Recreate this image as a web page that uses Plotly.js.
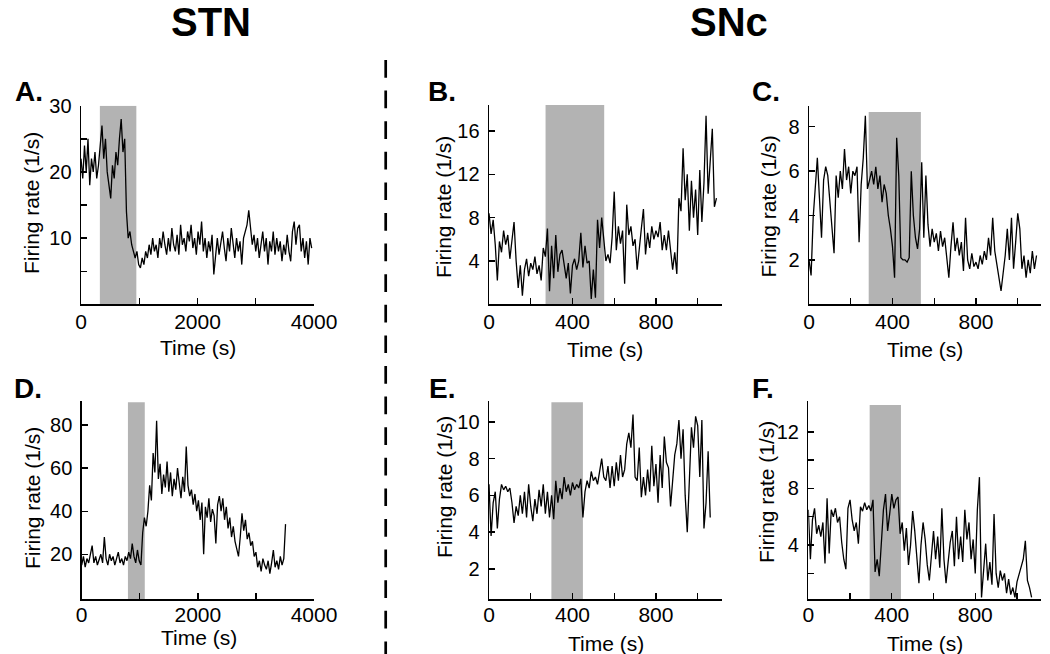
<!DOCTYPE html>
<html>
<head>
<meta charset="utf-8">
<script src="https://cdn.plot.ly/plotly-3.0.1.min.js"></script>
<style>
  html, body { margin: 0; padding: 0; background: #ffffff; }
  #chart { width: 1050px; height: 654px; }
</style>
</head>
<body>
<div id="chart"></div>
<script>
// ---------- data ----------
const STN_TIME = [
  0,30,60,90,120,150,180,210,240,270,
  300,330,360,390,420,450,480,510,540,570,
  600,630,660,690,720,750,780,810,840,870,
  900,930,960,990,1020,1050,1080,1110,1140,1170,
  1200,1230,1260,1290,1320,1350,1380,1410,1440,1470,
  1500,1530,1560,1590,1620,1650,1680,1710,1740,1770,
  1800,1830,1860,1890,1920,1950,1980,2010,2040,2070,
  2100,2130,2160,2190,2220,2250,2280,2310,2340,2370,
  2400,2430,2460,2490,2520,2550,2580,2610,2640,2670,
  2700,2730,2760,2790,2820,2850,2880,2910,2940,2970,
  3000,3030,3060,3090,3120,3150,3180,3210,3240,3270,
  3300,3330,3360,3390,3420,3450,3480,3510,3540,3570,
  3600,3630,3660,3690,3720,3750,3780,3810,3840,3870,
  3900,3930,3960
];
const SNC_TIME = [
  0,10,20,30,40,50,60,70,80,90,
  100,110,120,130,140,150,160,170,180,190,
  200,210,220,230,240,250,260,270,280,290,
  300,310,320,330,340,350,360,370,380,390,
  400,410,420,430,440,450,460,470,480,490,
  500,510,520,530,540,550,560,570,580,590,
  600,610,620,630,640,650,660,670,680,690,
  700,710,720,730,740,750,760,770,780,790,
  800,810,820,830,840,850,860,870,880,890,
  900,910,920,930,940,950,960,970,980,990,
  1000,1010,1020,1030,1040,1050,1060,1070,1080,1090,
  1100
];

// Panel A (STN)
const RATE_A = [
  22,19,24,20,25,18,22,20,23,19,
  21,24,27,22,25,20,18,16,21,19,
  23,21,25,28,23,25,14,10,11,9,
  8,7,8,6,5.5,7,6,8,7,9,
  7.5,10,8,9,7,10,8.5,11,9,7.5,
  10,8,11.5,9,8,10.5,7.5,12,9,10,
  8,11,9.5,12,8.5,10,7.5,11,9,12.5,
  8,10,7,9.5,8,10.5,4.5,8,10,7.5,
  9,11,8.5,6.5,10,8,11.5,9,7,10,
  8,9.5,6,10,11,12,14.2,11,9,10.5,
  8,10,7,9,11,8,10,6,9.5,8,
  11,7.5,10,8,9.5,6.5,9,7.5,10.5,8,
  6.5,11,12.5,9,11.5,12,8,10,7,9.5,
  6,10,8.5
];
// Panel B (SNc)
const RATE_B = [
  8.4,6.5,7.8,5.5,2.2,5.8,4.8,6.8,5.5,6.4,
  4.2,6.0,7.6,4.0,1.5,3.6,0.8,3.2,4.2,2.6,
  3.8,3.2,4.4,2.8,3.6,2.2,5.2,4.4,7.0,1.2,
  5.4,2.4,6.4,3.0,4.6,5.0,3.6,2.4,3.8,1.0,
  3.6,4.2,3.2,4.0,6.6,3.4,5.4,3.8,4.0,0.5,
  3.2,0.6,7.8,5.2,8.0,5.8,4.0,4.6,3.8,6.2,
  10.4,5.0,7.2,5.6,6.8,1.9,9.2,6.4,7.2,5.4,
  6.0,3.2,5.4,7.0,8.8,4.6,6.6,5.2,7.2,6.0,
  6.8,6.2,7.6,5.0,6.4,5.0,6.8,5.2,3.2,4.8,
  2.8,9.8,8.6,14.4,9.6,12.0,6.8,11.4,8.0,10.6,
  6.4,12.4,7.6,11.2,17.4,10.2,13.8,16.2,9.0,9.8
];
// Panel C (SNc)
const RATE_C = [
  2.0,1.3,3.9,5.3,6.6,4.8,3.0,5.6,6.2,5.8,
  4.6,3.6,2.3,5.8,4.8,6.0,5.2,7.0,5.6,6.2,
  5.0,6.0,5.8,6.2,2.8,5.4,6.6,8.5,5.2,5.6,
  6.0,5.4,6.2,5.2,5.8,4.6,5.4,5.0,4.0,3.4,
  2.6,1.2,7.5,5.8,2.1,2.0,2.0,1.9,2.1,6.0,
  4.0,3.0,2.5,3.4,6.4,3.0,5.8,3.6,2.6,3.4,
  2.8,3.2,2.4,3.3,2.6,3.0,2.2,1.2,2.6,3.7,
  2.4,3.0,2.2,2.8,1.5,3.9,2.0,1.6,2.3,1.7,
  1.9,1.6,2.2,1.8,2.4,2.0,3.0,2.2,3.9,2.4,
  1.8,1.2,0.6,1.4,2.2,3.4,2.0,3.9,1.6,2.8,
  4.1,3.4,1.6,2.2,1.2,2.0,1.4,2.4,1.6,2.2
];
// Panel D (STN)
const RATE_D = [
  15,19,14,18,16,21,24,16,19,15,
  18,20,16,28,18,15,20,17,19,15,
  18,21,16,18,15,19,17,21,18,25,
  19,16,22,17,15,30,37,33,40,52,
  45,67,58,82,55,62,48,57,51,63,
  49,58,47,55,50,60,53,46,56,49,
  70,52,47,50,43,48,40,45,36,44,
  20,42,37,46,35,41,38,25,43,47,
  40,46,36,42,32,37,28,33,26,22,
  19,28,39,31,36,27,30,24,26,19,
  21,14,17,12,18,15,13,17,11,16,
  22,14,17,13,19,15,18,34
];
// Panel E (SNc)
const RATE_E = [
  6.6,3.8,5.6,6.2,4.2,5.8,6.6,6.3,6.5,6.2,
  6.4,5.6,4.5,5.4,4.9,6.0,5.0,6.2,4.8,6.6,
  5.4,4.6,5.8,5.0,6.3,5.4,6.6,5.0,6.2,4.8,
  6.0,4.7,6.8,5.6,6.4,5.8,7.0,6.2,6.6,6.0,
  6.7,6.3,6.6,6.4,6.9,4.8,6.2,6.8,6.4,7.3,
  6.8,7.0,6.6,7.4,8.0,7.0,6.8,7.6,6.4,7.6,
  6.5,7.8,6.8,8.2,7.0,7.4,8.8,9.4,8.6,10.4,
  7.0,6.8,8.6,5.9,7.0,6.0,7.4,6.2,8.7,6.5,
  7.7,5.6,8.2,6.4,9.2,7.8,7.5,5.4,6.6,8.2,
  8.8,10.1,8.0,9.6,6.0,4.0,6.8,9.7,8.6,10.3,
  9.8,7.0,10.1,4.2,5.6,8.4,4.8
];
// Panel F (SNc)
const RATE_F = [
  6.5,3.0,5.8,6.6,4.8,5.4,4.6,5.6,2.7,7.3,
  3.4,6.5,6.0,6.6,5.6,6.0,4.2,3.0,2.3,6.6,
  7.2,5.8,5.0,5.6,4.1,6.7,6.4,7.0,6.5,6.8,
  6.4,7.2,2.1,3.0,1.8,4.5,6.5,7.6,5.0,6.2,
  7.6,6.6,7.2,7.4,4.8,5.6,3.6,5.2,2.6,4.0,
  6.4,5.0,3.2,1.3,4.0,5.6,4.4,2.6,1.5,3.2,
  5.0,3.0,4.6,2.4,6.6,3.0,1.3,2.8,4.2,5.0,
  2.5,6.0,3.0,4.6,2.8,6.5,4.4,5.6,3.0,4.4,
  2.0,6.5,8.8,0.3,2.4,4.1,1.5,2.8,1.2,6.2,
  2.0,1.0,2.2,1.5,2.0,0.6,1.6,0.5,1.0,0.3,
  1.4,2.0,2.6,3.0,4.3,1.5,1.0,0.3
];

// stimulation (shaded) intervals, seconds
const STIM_A = [324, 950];
const STIM_B = [271, 552];
const STIM_C = [286, 536];
const STIM_D = [796, 1086];
const STIM_E = [299, 450];
const STIM_F = [294, 444];

// tick labels
const STN_TICKS = [0, 1000, 2000, 3000, 4000];
const STN_TICK_TEXT = ['0', '', '2000', '', '4000'];
const SNC_TICKS = [0, 200, 400, 600, 800, 1000];
const SNC_TICK_TEXT = ['0', '', '400', '', '800', ''];
const Y_TICKS_A = [5, 10, 15, 20, 25, 30];
const Y_TEXT_A = ['', '10', '', '20', '', '30'];
const Y_TICKS_B = [4, 8, 12, 16];
const Y_TICKS_C = [2, 4, 6, 8];
const Y_TICKS_D = [20, 40, 60, 80];
const Y_TICKS_E = [2, 4, 6, 8, 10];
const Y_TICKS_F = [2, 4, 6, 8, 10, 12];
const Y_TEXT_F = ['', '4', '', '8', '', '12'];

const LETTERS = ['A.', 'B.', 'C.', 'D.', 'E.', 'F.'];
const GROUPS = ['STN', 'SNc'];
const X_TITLE = 'Time (s)';
const Y_TITLE = 'Firing rate (1/s)';

// ---------- layout helpers ----------
const W = 1050, H = 654;
const FONT = 'Liberation Sans, Arial, Helvetica, sans-serif';
const px = v => v / W;
const py = v => 1 - v / H;

const panels = [
  { t: STN_TIME, y: RATE_A, stim: STIM_A, xr: [0, 4000], yr: [0, 30],   top: 30,   xd: [81, 314],      yd: [105.7, 304.3], xt: STN_TICKS, xl: STN_TICK_TEXT, yt: Y_TICKS_A, yl: Y_TEXT_A, lx: 13,  ly: 92,  tx: 32,    ty: 203, xtx: 198,   xty: 347, ls: -2 },
  { t: SNC_TIME, y: RATE_B, stim: STIM_B, xr: [0, 1115], yr: [0, 18.4], top: 18.4, xd: [489, 721.7],   yd: [105, 304.3],   xt: SNC_TICKS, xl: SNC_TICK_TEXT, yt: Y_TICKS_B, yl: Y_TICKS_B.map(String), lx: 426, ly: 92,  tx: 443,   ty: 207, xtx: 605,   xty: 349, ls: -2 },
  { t: SNC_TIME, y: RATE_C, stim: STIM_C, xr: [0, 1110], yr: [0, 8.95], top: 8.67, xd: [809, 1040.7],  yd: [105.7, 304.3], xt: SNC_TICKS, xl: SNC_TICK_TEXT, yt: Y_TICKS_C, yl: Y_TICKS_C.map(String), lx: 750, ly: 92,  tx: 767.5, ty: 207, xtx: 925,   xty: 349, ls: -2 },
  { t: STN_TIME, y: RATE_D, stim: STIM_D, xr: [0, 4000], yr: [-0.9, 91.3], top: 90.6, xd: [81.7, 314], yd: [400.7, 599.3], xt: STN_TICKS, xl: STN_TICK_TEXT, yt: Y_TICKS_D, yl: Y_TICKS_D.map(String), lx: 12, ly: 388, tx: 32,    ty: 498, xtx: 198.5, xty: 637, ls: -4 },
  { t: SNC_TIME, y: RATE_E, stim: STIM_E, xr: [0, 1115], yr: [0.35, 11.15], top: 11.06, xd: [489, 721.7], yd: [400.7, 599.3], xt: SNC_TICKS, xl: SNC_TICK_TEXT, yt: Y_TICKS_E, yl: Y_TICKS_E.map(String), lx: 427, ly: 388, tx: 444, ty: 487, xtx: 605.5, xty: 643, ls: -4 },
  { t: SNC_TIME, y: RATE_F, stim: STIM_F, xr: [0, 1115], yr: [0.17, 14.2], top: 13.9, xd: [808.3, 1041], yd: [400.7, 599.3], xt: SNC_TICKS, xl: SNC_TICK_TEXT, yt: Y_TICKS_F, yl: Y_TEXT_F, lx: 750, ly: 388, tx: 766, ty: 492, xtx: 925, xty: 643, ls: -4 }
];

const traces = [];
const shapes = [];
const annotations = [];
const layout = {
  width: W, height: H,
  margin: { l: 0, r: 0, t: 0, b: 0 },
  paper_bgcolor: '#ffffff',
  plot_bgcolor: 'rgba(0,0,0,0)',
  showlegend: false,
  font: { family: FONT, color: '#000000', size: 20 }
};

panels.forEach((p, i) => {
  const n = i + 1;
  const xa = n === 1 ? 'x' : 'x' + n;
  const ya = n === 1 ? 'y' : 'y' + n;
  const xkey = n === 1 ? 'xaxis' : 'xaxis' + n;
  const ykey = n === 1 ? 'yaxis' : 'yaxis' + n;

  traces.push({
    type: 'scatter', mode: 'lines',
    x: p.t.slice(0, p.y.length), y: p.y,
    xaxis: xa, yaxis: ya,
    line: { color: '#000000', width: 1.3 },
    hoverinfo: 'skip'
  });

  shapes.push({
    type: 'rect', layer: 'below',
    xref: xa, yref: ya,
    x0: p.stim[0], x1: p.stim[1], y0: p.yr[0], y1: p.top,
    fillcolor: '#b3b3b3', line: { width: 0 }
  });

  layout[xkey] = {
    domain: [px(p.xd[0]), px(p.xd[1])],
    anchor: ya,
    range: p.xr,
    showgrid: false, zeroline: false,
    showline: true, linecolor: '#000000', linewidth: 1.4,
    ticks: 'inside', ticklen: 6, tickwidth: 1.4, tickcolor: '#000000',
    ticklabelstandoff: p.ls,
    tickmode: 'array', tickvals: p.xt, ticktext: p.xl,
    tickfont: { family: FONT, size: 21, color: '#000000' },
    fixedrange: true
  };
  layout[ykey] = {
    domain: [py(p.yd[1]), py(p.yd[0])],
    anchor: xa,
    range: p.yr,
    showgrid: false, zeroline: false,
    showline: true, linecolor: '#000000', linewidth: 1.4,
    ticks: 'inside', ticklen: 6, tickwidth: 1.4, tickcolor: '#000000',
    ticklabelstandoff: 4,
    tickmode: 'array', tickvals: p.yt, ticktext: p.yl,
    tickfont: { family: FONT, size: 20, color: '#000000' },
    fixedrange: true
  };

  // x-axis title
  annotations.push({
    xref: 'paper', yref: 'paper',
    x: px(p.xtx), y: py(p.xty), xanchor: 'center', yanchor: 'middle',
    text: X_TITLE, showarrow: false,
    font: { family: FONT, size: 21, color: '#000000' }
  });

  // y-axis title, placed as in the reference (it overlaps tick labels in F)
  annotations.push({
    xref: 'paper', yref: 'paper',
    x: px(p.tx), y: py(p.ty), xanchor: 'center', yanchor: 'middle',
    text: Y_TITLE, textangle: -90, showarrow: false,
    font: { family: FONT, size: 21, color: '#000000' }
  });

  annotations.push({
    xref: 'paper', yref: 'paper',
    x: px(p.lx), y: py(p.ly), xanchor: 'left', yanchor: 'middle',
    text: '<b>' + LETTERS[i] + '</b>', showarrow: false,
    font: { family: FONT, size: 28, color: '#000000' }
  });
});

// group headers
annotations.push({
  xref: 'paper', yref: 'paper', x: px(211), y: py(22), xanchor: 'center', yanchor: 'middle',
  text: '<b>' + GROUPS[0] + '</b>', showarrow: false,
  font: { family: FONT, size: 40, color: '#000000' }
});
annotations.push({
  xref: 'paper', yref: 'paper', x: px(729), y: py(22), xanchor: 'center', yanchor: 'middle',
  text: '<b>' + GROUPS[1] + '</b>', showarrow: false,
  font: { family: FONT, size: 40, color: '#000000' }
});

// dashed separator
shapes.push({
  type: 'line', xref: 'paper', yref: 'paper',
  x0: px(385.7), x1: px(385.7), y0: py(60), y1: py(654),
  line: { color: '#000000', width: 2.7, dash: '17.7px,12.9px' }
});

layout.shapes = shapes;
layout.annotations = annotations;

Plotly.newPlot('chart', traces, layout, { displayModeBar: false, staticPlot: true });
</script>
</body>
</html>
